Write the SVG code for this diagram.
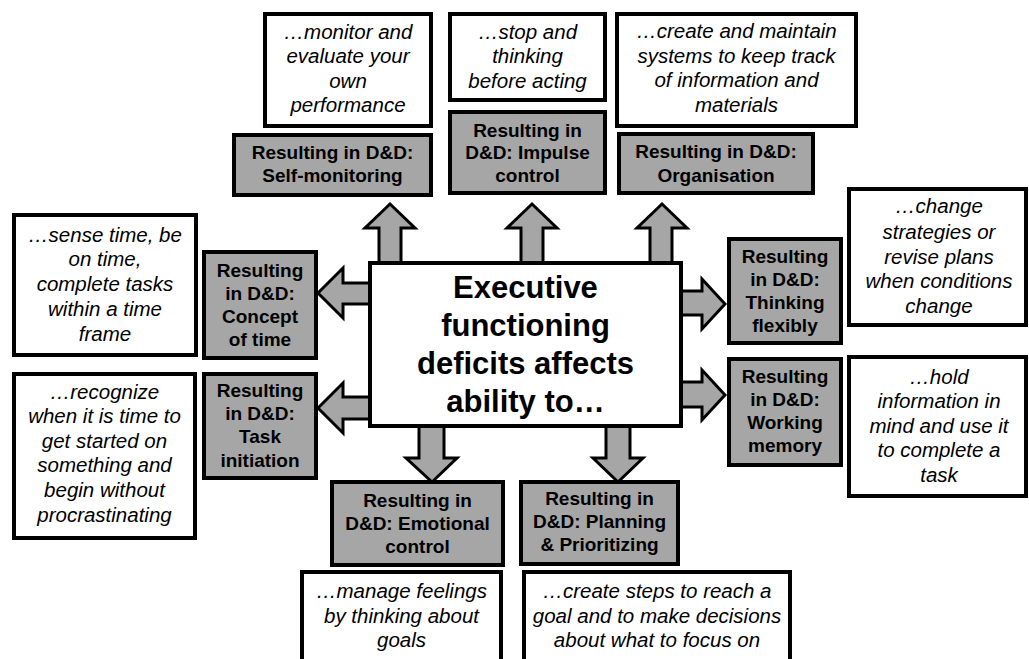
<svg xmlns="http://www.w3.org/2000/svg" width="1029" height="659" viewBox="0 0 1029 659">
<style>
.w{fill:#fff;stroke:#000;stroke-width:4}
.g{fill:#a6a6a6;stroke:#000;stroke-width:4}
.a{fill:#a6a6a6;stroke:#000;stroke-width:3;stroke-linejoin:miter}
.ti{font-family:"Liberation Sans",Arial,sans-serif;font-style:italic;font-size:20.5px;fill:#000;text-anchor:middle}
.tb{font-family:"Liberation Sans",Arial,sans-serif;font-weight:bold;font-size:19px;fill:#000;text-anchor:middle}
.tc{font-family:"Liberation Sans",Arial,sans-serif;font-weight:bold;font-size:31px;fill:#000;text-anchor:middle}
</style>
<rect width="1029" height="659" fill="#fff"/>
<g id="connectors">
<polygon class="a" points="390,204 365,228 379,228 379,266 401,266 401,228 415,228"/>
<polygon class="a" points="532,204 507,228 521,228 521,266 543,266 543,228 557,228"/>
<polygon class="a" points="662,204 637,228 650,228 650,266 672,266 672,228 687,228"/>
<polygon class="a" points="318,293 343,268 343,283 374,283 374,304 343,304 343,318"/>
<polygon class="a" points="318,408 343,383 343,397 374,397 374,419 343,419 343,433"/>
<polygon class="a" points="725,304 702,279 702,291 677,291 677,315 702,315 702,329"/>
<polygon class="a" points="725,395 702,370 702,382 677,382 677,407 702,407 702,420"/>
<polygon class="a" points="432,482 406,458 419,458 419,423 444,423 444,458 457,458"/>
<polygon class="a" points="618,482 593,458 606,458 606,423 630,423 630,458 643,458"/>
</g>
<g id="center">
<rect class="w" x="370" y="263" width="311" height="163"/>
<text class="tc" x="525.5" y="298">Executive</text>
<text class="tc" x="525.5" y="336">functioning</text>
<text class="tc" x="525.5" y="374">deficits affects</text>
<text class="tc" x="525.5" y="412">ability to…</text>
</g>
<g id="self-monitoring">
<rect class="w" x="265" y="14" width="166" height="112"/>
<text class="ti" x="348" y="39">…monitor and</text>
<text class="ti" x="348" y="63">evaluate your</text>
<text class="ti" x="348" y="88">own</text>
<text class="ti" x="348" y="112">performance</text>
<rect class="g" x="234" y="135" width="197" height="60"/>
<text class="tb" x="332.5" y="159">Resulting in D&amp;D:</text>
<text class="tb" x="332.5" y="182">Self-monitoring</text>
</g>
<g id="impulse-control">
<rect class="w" x="450" y="14" width="155" height="86"/>
<text class="ti" x="527.5" y="39">…stop and</text>
<text class="ti" x="527.5" y="63">thinking</text>
<text class="ti" x="527.5" y="88">before acting</text>
<rect class="g" x="450" y="112" width="155" height="81"/>
<text class="tb" x="527.5" y="137">Resulting in</text>
<text class="tb" x="527.5" y="159">D&amp;D: Impulse</text>
<text class="tb" x="527.5" y="182">control</text>
</g>
<g id="organisation">
<rect class="w" x="617" y="14" width="239" height="112"/>
<text class="ti" x="736.5" y="38">…create and maintain</text>
<text class="ti" x="736.5" y="63">systems to keep track</text>
<text class="ti" x="736.5" y="87">of information and</text>
<text class="ti" x="736.5" y="112">materials</text>
<rect class="g" x="619" y="134" width="194" height="59"/>
<text class="tb" x="716" y="158">Resulting in D&amp;D:</text>
<text class="tb" x="716" y="182">Organisation</text>
</g>
<g id="concept-of-time">
<rect class="w" x="14" y="215" width="182" height="140"/>
<text class="ti" x="105" y="242">…sense time, be</text>
<text class="ti" x="105" y="266">on time,</text>
<text class="ti" x="105" y="291">complete tasks</text>
<text class="ti" x="105" y="316">within a time</text>
<text class="ti" x="105" y="341">frame</text>
<rect class="g" x="204" y="252" width="112" height="106"/>
<text class="tb" x="260" y="277">Resulting</text>
<text class="tb" x="260" y="300">in D&amp;D:</text>
<text class="tb" x="260" y="323">Concept</text>
<text class="tb" x="260" y="346">of time</text>
</g>
<g id="task-initiation">
<rect class="w" x="14" y="374" width="181" height="164"/>
<text class="ti" x="104.5" y="399">…recognize</text>
<text class="ti" x="104.5" y="423">when it is time to</text>
<text class="ti" x="104.5" y="448">get started on</text>
<text class="ti" x="104.5" y="472">something and</text>
<text class="ti" x="104.5" y="497">begin without</text>
<text class="ti" x="104.5" y="522">procrastinating</text>
<rect class="g" x="204" y="374" width="112" height="104"/>
<text class="tb" x="260" y="397">Resulting</text>
<text class="tb" x="260" y="420">in D&amp;D:</text>
<text class="tb" x="260" y="443">Task</text>
<text class="tb" x="260" y="467">initiation</text>
</g>
<g id="thinking-flexibly">
<rect class="g" x="729" y="239" width="112" height="104"/>
<text class="tb" x="785" y="263">Resulting</text>
<text class="tb" x="785" y="286">in D&amp;D:</text>
<text class="tb" x="785" y="309">Thinking</text>
<text class="tb" x="785" y="332">flexibly</text>
<rect class="w" x="849" y="189" width="177" height="136"/>
<text class="ti" x="939" y="213">…change</text>
<text class="ti" x="939" y="239">strategies or</text>
<text class="ti" x="939" y="264">revise plans</text>
<text class="ti" x="939" y="288">when conditions</text>
<text class="ti" x="939" y="313">change</text>
</g>
<g id="working-memory">
<rect class="g" x="729" y="359" width="112" height="106"/>
<text class="tb" x="785" y="383">Resulting</text>
<text class="tb" x="785" y="406">in D&amp;D:</text>
<text class="tb" x="785" y="429">Working</text>
<text class="tb" x="785" y="452">memory</text>
<rect class="w" x="849" y="357" width="177" height="139"/>
<text class="ti" x="939" y="384">…hold</text>
<text class="ti" x="939" y="408">information in</text>
<text class="ti" x="939" y="433">mind and use it</text>
<text class="ti" x="939" y="457">to complete a</text>
<text class="ti" x="939" y="482">task</text>
</g>
<g id="emotional-control">
<rect class="g" x="332" y="482" width="171" height="83"/>
<text class="tb" x="417.5" y="507">Resulting in</text>
<text class="tb" x="417.5" y="530">D&amp;D: Emotional</text>
<text class="tb" x="417.5" y="553">control</text>
<rect class="w" x="302" y="572" width="199" height="95"/>
<text class="ti" x="401.5" y="598">…manage feelings</text>
<text class="ti" x="401.5" y="623">by thinking about</text>
<text class="ti" x="401.5" y="647">goals</text>
</g>
<g id="planning">
<rect class="g" x="521" y="482" width="157" height="82"/>
<text class="tb" x="599.5" y="505">Resulting in</text>
<text class="tb" x="599.5" y="528">D&amp;D: Planning</text>
<text class="tb" x="599.5" y="551">&amp; Prioritizing</text>
<rect class="w" x="524" y="572" width="266" height="95"/>
<text class="ti" x="657" y="598">…create steps to reach a</text>
<text class="ti" x="657" y="623">goal and to make decisions</text>
<text class="ti" x="657" y="647">about what to focus on</text>
</g>
</svg>
